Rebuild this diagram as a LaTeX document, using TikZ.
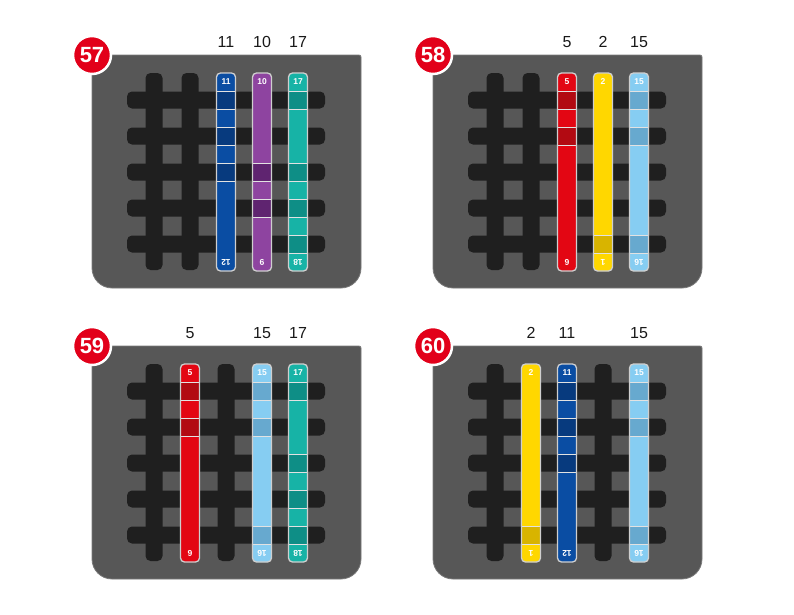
\documentclass[tikz,border=0pt]{standalone}
\usepackage{fontspec}
\setmainfont{Liberation Sans}
\definecolor{panelgray}{HTML}{575757}
\definecolor{panelrim}{HTML}{7A7A7A}
\definecolor{barblack}{HTML}{1F1F1F}
\definecolor{striprim}{HTML}{CFCFCF}
\definecolor{cellline}{HTML}{E2E2E2}
\definecolor{badgered}{HTML}{E2001A}
\definecolor{blueA}{HTML}{0A4DA3}
\definecolor{blueB}{HTML}{073A7E}
\definecolor{purpleA}{HTML}{8E44A0}
\definecolor{purpleB}{HTML}{5F2470}
\definecolor{tealA}{HTML}{17B3A6}
\definecolor{tealB}{HTML}{0E8E86}
\definecolor{redA}{HTML}{E30613}
\definecolor{redB}{HTML}{B20A12}
\definecolor{yellowA}{HTML}{FFD700}
\definecolor{yellowB}{HTML}{D8B400}
\definecolor{skyA}{HTML}{86CDF2}
\definecolor{skyB}{HTML}{67A9CF}
\begin{document}
\begin{tikzpicture}[x=1pt, y=-1pt,
        panel/.style={fill=panelgray, draw=panelrim, line width=0.8pt},
        bar/.style={fill=barblack, rounded corners=5pt},
        strip/.style={rectangle, minimum width=19pt, minimum height=198pt, rounded corners=4pt, inner sep=0pt},
        rim/.style={strip, draw=striprim, line width=1.3pt},
        cell/.style={rectangle, minimum width=19pt, minimum height=18pt, inner sep=0pt, draw=cellline, line width=0.9pt},
        tag/.style={font=\bfseries\fontsize{8.5}{8.5}\selectfont, text=white, inner sep=0pt},
        badge/.style={circle, fill=badgered, draw=white, line width=2.5pt, minimum size=38pt, inner sep=0pt, font=\bfseries\fontsize{22}{22}\selectfont, text=white},
        count/.style={font=\fontsize{16}{16}\selectfont, text=black!90, inner sep=0pt}
    ]
        \useasboundingbox (0,0) rectangle (794,614);
        \fill[white] (0,0) rectangle (794,614);

        % Panels, weave grids and badges
        \foreach \dx/\dy/\num in {0/0/57, 341/0/58, 0/291/59, 341/291/60} {
            \begin{scope}[shift={(\dx,\dy)}]
                \path[panel] (92,55) -- (359,55) arc[start angle=-90, end angle=0, radius=2]
                    -- (361,268) arc[start angle=0, end angle=90, radius=20]
                    -- (112,288) arc[start angle=90, end angle=180, radius=20] -- cycle;
                \foreach \r in {100,136,172,208,244}
                    \fill[bar] (127,{\r-8.5}) rectangle (325,{\r+8.5});
                \foreach \c in {154,190,226,262,298}
                    \fill[bar] ({\c-8.5},73) rectangle ({\c+8.5},270);
                \node[badge] (badge\num) at (92,55) {\num};
            \end{scope}
        }

        % Panel 57
        \node[count] (n57a) at (226,42) {11};
        \node[count] (n57b) at (262,42) {10};
        \node[count] (n57c) at (298,42) {17};
        \node[strip, fill=blueA] (s57a) at (226,172) {};
        \foreach \r in {100,136,172} \node[cell, fill=blueB] (s57a-\r) at (226,\r) {};
        \node[tag] (s57a-top) at (226,82) {11};
        \node[tag, rotate=180] (s57a-bot) at (226,262) {12};
        \node[rim] (s57a-rim) at (226,172) {};
        \node[strip, fill=purpleA] (s57b) at (262,172) {};
        \foreach \r in {172,208} \node[cell, fill=purpleB] (s57b-\r) at (262,\r) {};
        \node[tag] (s57b-top) at (262,82) {10};
        \node[tag, rotate=180] (s57b-bot) at (262,262) {9};
        \node[rim] (s57b-rim) at (262,172) {};
        \node[strip, fill=tealA] (s57c) at (298,172) {};
        \foreach \r in {100,172,208,244} \node[cell, fill=tealB] (s57c-\r) at (298,\r) {};
        \node[tag] (s57c-top) at (298,82) {17};
        \node[tag, rotate=180] (s57c-bot) at (298,262) {18};
        \node[rim] (s57c-rim) at (298,172) {};

        % Panel 58
        \begin{scope}[shift={(341,0)}]
            \node[count] (n58a) at (226,42) {5};
            \node[count] (n58b) at (262,42) {2};
            \node[count] (n58c) at (298,42) {15};
            \node[strip, fill=redA] (s58a) at (226,172) {};
            \foreach \r in {100,136} \node[cell, fill=redB] (s58a-\r) at (226,\r) {};
            \node[tag] (s58a-top) at (226,82) {5};
            \node[tag, rotate=180] (s58a-bot) at (226,262) {6};
            \node[rim] (s58a-rim) at (226,172) {};
            \node[strip, fill=yellowA] (s58b) at (262,172) {};
            \foreach \r in {244} \node[cell, fill=yellowB] (s58b-\r) at (262,\r) {};
            \node[tag] (s58b-top) at (262,82) {2};
            \node[tag, rotate=180] (s58b-bot) at (262,262) {1};
            \node[rim] (s58b-rim) at (262,172) {};
            \node[strip, fill=skyA] (s58c) at (298,172) {};
            \foreach \r in {100,136,244} \node[cell, fill=skyB] (s58c-\r) at (298,\r) {};
            \node[tag] (s58c-top) at (298,82) {15};
            \node[tag, rotate=180] (s58c-bot) at (298,262) {16};
            \node[rim] (s58c-rim) at (298,172) {};
        \end{scope}

        % Panel 59
        \begin{scope}[shift={(0,291)}]
            \node[count] (n59a) at (190,42) {5};
            \node[count] (n59b) at (262,42) {15};
            \node[count] (n59c) at (298,42) {17};
            \node[strip, fill=redA] (s59a) at (190,172) {};
            \foreach \r in {100,136} \node[cell, fill=redB] (s59a-\r) at (190,\r) {};
            \node[tag] (s59a-top) at (190,82) {5};
            \node[tag, rotate=180] (s59a-bot) at (190,262) {6};
            \node[rim] (s59a-rim) at (190,172) {};
            \node[strip, fill=skyA] (s59b) at (262,172) {};
            \foreach \r in {100,136,244} \node[cell, fill=skyB] (s59b-\r) at (262,\r) {};
            \node[tag] (s59b-top) at (262,82) {15};
            \node[tag, rotate=180] (s59b-bot) at (262,262) {16};
            \node[rim] (s59b-rim) at (262,172) {};
            \node[strip, fill=tealA] (s59c) at (298,172) {};
            \foreach \r in {100,172,208,244} \node[cell, fill=tealB] (s59c-\r) at (298,\r) {};
            \node[tag] (s59c-top) at (298,82) {17};
            \node[tag, rotate=180] (s59c-bot) at (298,262) {18};
            \node[rim] (s59c-rim) at (298,172) {};
        \end{scope}

        % Panel 60
        \begin{scope}[shift={(341,291)}]
            \node[count] (n60a) at (190,42) {2};
            \node[count] (n60b) at (226,42) {11};
            \node[count] (n60c) at (298,42) {15};
            \node[strip, fill=yellowA] (s60a) at (190,172) {};
            \foreach \r in {244} \node[cell, fill=yellowB] (s60a-\r) at (190,\r) {};
            \node[tag] (s60a-top) at (190,82) {2};
            \node[tag, rotate=180] (s60a-bot) at (190,262) {1};
            \node[rim] (s60a-rim) at (190,172) {};
            \node[strip, fill=blueA] (s60b) at (226,172) {};
            \foreach \r in {100,136,172} \node[cell, fill=blueB] (s60b-\r) at (226,\r) {};
            \node[tag] (s60b-top) at (226,82) {11};
            \node[tag, rotate=180] (s60b-bot) at (226,262) {12};
            \node[rim] (s60b-rim) at (226,172) {};
            \node[strip, fill=skyA] (s60c) at (298,172) {};
            \foreach \r in {100,136,244} \node[cell, fill=skyB] (s60c-\r) at (298,\r) {};
            \node[tag] (s60c-top) at (298,82) {15};
            \node[tag, rotate=180] (s60c-bot) at (298,262) {16};
            \node[rim] (s60c-rim) at (298,172) {};
        \end{scope}
    \end{tikzpicture}
\end{document}
